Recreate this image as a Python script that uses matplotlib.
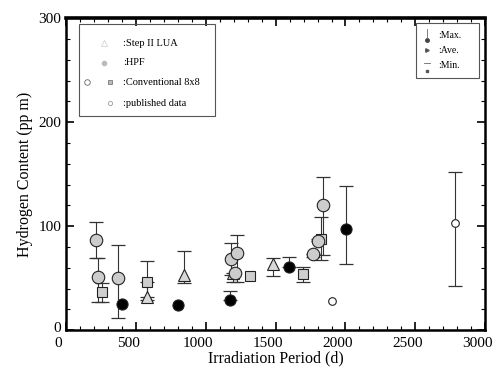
import matplotlib
matplotlib.use('Agg')
import matplotlib.pyplot as plt
from matplotlib.patches import Rectangle
from matplotlib.transforms import ScaledTranslation

plt.rcParams['font.family'] = ['Liberation Serif', 'DejaVu Serif']

# conventional 8x8, circles: day, ave, min, max
conv_c_x = [210, 230, 370, 1180, 1225, 1210, 1765, 1800, 1836]
conv_c_y = [87, 51, 50, 68, 74, 55, 73, 86, 120]
conv_c_lo = [69, 27, 12, 53, 46, 55, 70, 86, 72]
conv_c_hi = [104, 69, 82, 84, 91, 55, 73, 88, 147]

# conventional 8x8, squares
conv_s_x = [257, 578, 1314, 1693, 1825]
conv_s_y = [37, 46, 52, 54, 88]
conv_s_lo = [27, 32, 52, 46, 67]
conv_s_hi = [45, 66, 52, 61, 109]

# step II LUA
lua_x = [578, 843, 1195, 1480]
lua_y = [32, 53, 55, 64]
lua_lo = [29, 45, 46, 52]
lua_hi = [46, 76, 55, 69]

# HPF
hpf_x = [400, 800, 1171, 1593, 2007]
hpf_y = [25, 24, 29, 61, 97]
hpf_lo = [25, 24, 29, 61, 64]
hpf_hi = [25, 24, 38, 70, 139]

# published data
pub_x = [1907, 2786]
pub_y = [28, 103]
pub_lo = [28, 42]
pub_hi = [28, 152]

fig = plt.figure(figsize=(4.94, 3.79), dpi=100)
ax = fig.add_axes([0.134, 0.129, 0.848, 0.823])


def draw(xs, ys, lo, hi, marker, fc, ms):
    for x, y, l, h in zip(xs, ys, lo, hi):
        if h > l:
            ax.errorbar([x], [y], yerr=[[y - l], [h - y]], fmt='none',
                        ecolor='#333333', elinewidth=0.8, capsize=5, capthick=0.9, zorder=2)
    ax.plot(xs, ys, linestyle='none', marker=marker, markersize=ms,
            markerfacecolor=fc, markeredgecolor='#222222', markeredgewidth=0.8, zorder=3)


draw(conv_s_x, conv_s_y, conv_s_lo, conv_s_hi, 's', '#cfcfcf', 7.5)
draw(lua_x, lua_y, lua_lo, lua_hi, '^', '#d8d8d8', 8)
draw(conv_c_x, conv_c_y, conv_c_lo, conv_c_hi, 'o', '#cccccc', 9)
draw(hpf_x, hpf_y, hpf_lo, hpf_hi, 'o', 'black', 8)
draw(pub_x, pub_y, pub_lo, pub_hi, 'o', 'white', 5.5)

ax.set_xlim(0, 3000)
ax.set_ylim(0, 300)
ax.set_xticks([0, 500, 1000, 1500, 2000, 2500, 3000])
ax.set_xticks(range(0, 3001, 100), minor=True)
ax.set_yticks([0, 100, 200, 300])
ax.set_yticks(range(0, 301, 20), minor=True)
ax.tick_params(direction='in', which='both', top=True, right=True, labelsize=11)
ax.tick_params(which='major', length=6, width=1.2)
ax.tick_params(which='minor', length=3, width=0.8)
ax.tick_params(axis='x', which='major', pad=5)
for s in ax.spines.values():
    s.set_linewidth(1.8)
ax.spines['top'].set_linewidth(2.6)

# scanned labels sit a little left of their ticks
shift = ScaledTranslation(-0.08, 0, fig.dpi_scale_trans)
for lab in ax.get_xticklabels():
    lab.set_transform(lab.get_transform() + shift)
# lift the y "0" a touch so it clears the x "0"
yshift = ScaledTranslation(0, 0.03, fig.dpi_scale_trans)
ylab0 = ax.get_yticklabels()[0]
ylab0.set_transform(ylab0.get_transform() + yshift)

ax.set_xlabel('Irradiation Period (d)', fontsize=11.5, labelpad=0)
ax.set_ylabel('Hydrogen Content (pp m)', fontsize=11.5, labelpad=4)

# left legend
ax.add_patch(Rectangle((0.031, 0.686), 0.325, 0.295, transform=ax.transAxes,
                       fill=False, edgecolor='#555555', linewidth=0.8, zorder=4))
leg_labels = [':Step II LUA', ':HPF', ':Conventional 8x8', ':published data']
leg_y = [0.92, 0.857, 0.795, 0.728]
for t, yy in zip(leg_labels, leg_y):
    ax.text(0.136, yy, t, transform=ax.transAxes, fontsize=7.5, va='center')
ax.plot([0.09], [0.92], transform=ax.transAxes, marker='^', ms=4,
        mfc='white', mec='#cccccc', mew=0.5, ls='none')
ax.plot([0.09], [0.857], transform=ax.transAxes, marker='o', ms=3,
        mfc='#bbbbbb', mec='#bbbbbb', ls='none')
ax.plot([0.05], [0.795], transform=ax.transAxes, marker='o', ms=4,
        mfc='white', mec='#666666', mew=0.6, ls='none')
ax.plot([0.105], [0.795], transform=ax.transAxes, marker='s', ms=3.5,
        mfc='#bbbbbb', mec='#666666', mew=0.5, ls='none')
ax.plot([0.105], [0.728], transform=ax.transAxes, marker='o', ms=3,
        mfc='white', mec='#888888', mew=0.5, ls='none')

# right legend
ax.add_patch(Rectangle((0.835, 0.808), 0.15, 0.176, transform=ax.transAxes,
                       fill=False, edgecolor='#555555', linewidth=0.8, zorder=4))
for t, yy in zip([':Max.', ':Ave.', ':Min.'], [0.946, 0.897, 0.849]):
    ax.text(0.888, yy, t, transform=ax.transAxes, fontsize=7, va='center')
ax.plot([0.862], [0.93], transform=ax.transAxes, marker='o', ms=2.5,
        mfc='#444444', mec='#444444', ls='none')
ax.plot([0.862, 0.862], [0.935, 0.965], transform=ax.transAxes, color='#666666', lw=0.6)
ax.plot([0.862], [0.897], transform=ax.transAxes, marker='>', ms=2.5,
        mfc='#555555', mec='#555555', ls='none')
ax.plot([0.862], [0.83], transform=ax.transAxes, marker='s', ms=2,
        mfc='#555555', mec='#555555', ls='none')
ax.plot([0.855, 0.869], [0.855, 0.855], transform=ax.transAxes, color='#666666', lw=0.6)

fig.savefig('out.png', dpi=100)
